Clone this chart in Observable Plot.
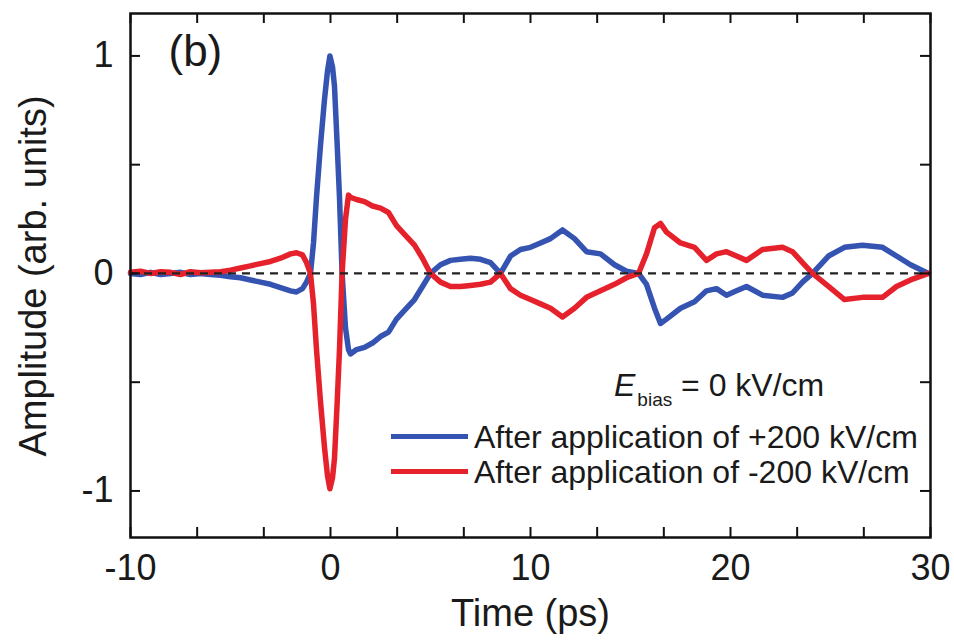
<!DOCTYPE html>
<html>
<head>
<meta charset="utf-8">
<script src="https://cdn.jsdelivr.net/npm/d3@7"></script>
<script src="https://cdn.jsdelivr.net/npm/@observablehq/plot@0.6"></script>
<style>
  body { margin: 0; background: #fff; }
  #wrap { position: relative; width: 954px; height: 641px; font-family: "Liberation Sans", Arial, sans-serif; color: #1a1a1a; }
  .lg { position: absolute; font-size: 32px; line-height: 32px; white-space: nowrap; }
  .sw { position: absolute; height: 5px; width: 77px; }
  #ytitle { position: absolute; left: 33px; top: 276px; font-size: 38px; line-height: 38px; white-space: nowrap;
            transform: translate(-50%, -50%) rotate(-90deg); }
</style>
</head>
<body>
<div id="wrap"></div>
<script>
// Time axis (ps) shared by both traces
const time = [-10,-9.5,-9,-8.5,-8,-7.5,-7,-6.5,-6,-5.5,-5,-4.5,-4,-3.5,-3,-2.5,-2,-1.7,-1.4,-1.2,-1.0,-0.85,-0.7,-0.5,-0.3,-0.15,-0.03,0.1,0.2,0.33,0.45,0.58,0.75,0.9,1.0,1.3,1.7,2.1,2.5,2.9,3.3,3.7,4.2,4.6,5.0,5.5,6.0,6.5,7.0,7.5,8.0,8.5,9.0,9.5,10.0,10.5,11.0,11.6,12.2,12.8,13.5,14.2,14.8,15.4,15.8,16.2,16.5,16.8,17.5,18.2,18.8,19.3,19.8,20.3,20.8,21.6,22.6,23.1,23.6,24.1,24.9,25.7,26.6,27.6,28.3,29.0,29.9];
// After application of +200 kV/cm (blue)
const plus200 = [0.0,-0.005,0.005,-0.005,0.0,0.005,-0.005,0.0,-0.005,-0.008,-0.015,-0.02,-0.03,-0.04,-0.05,-0.065,-0.08,-0.085,-0.07,-0.04,0.0,0.14,0.35,0.59,0.8,0.93,1.0,0.95,0.86,0.6,0.35,0.0,-0.25,-0.35,-0.37,-0.35,-0.34,-0.32,-0.29,-0.27,-0.21,-0.17,-0.12,-0.06,0.0,0.04,0.06,0.065,0.07,0.065,0.05,0.0,0.08,0.11,0.12,0.14,0.16,0.20,0.16,0.10,0.09,0.04,0.01,0.0,-0.05,-0.16,-0.23,-0.21,-0.16,-0.13,-0.08,-0.07,-0.10,-0.08,-0.06,-0.10,-0.11,-0.09,-0.04,0.0,0.08,0.12,0.13,0.12,0.08,0.04,0.0];
// After application of -200 kV/cm (red)
const minus200 = [0.005,0.01,0.0,0.008,0.005,-0.005,0.008,0.003,0.005,0.008,0.015,0.025,0.035,0.045,0.055,0.07,0.09,0.095,0.085,0.05,0.0,-0.14,-0.35,-0.59,-0.8,-0.93,-0.99,-0.94,-0.85,-0.6,-0.35,0.0,0.25,0.36,0.35,0.34,0.33,0.31,0.30,0.28,0.22,0.18,0.13,0.07,0.0,-0.04,-0.06,-0.06,-0.055,-0.05,-0.04,0.0,-0.07,-0.10,-0.12,-0.14,-0.16,-0.20,-0.16,-0.11,-0.08,-0.05,-0.02,0.0,0.09,0.21,0.23,0.19,0.14,0.12,0.06,0.09,0.10,0.08,0.06,0.11,0.12,0.10,0.05,0.0,-0.06,-0.12,-0.11,-0.11,-0.06,-0.03,0.0];

const xLabelTicks = [-10, 0, 10, 20, 30];
const xTicks = [-10, -20/3, -10/3, 0, 10/3, 20/3, 10, 40/3, 50/3, 20, 70/3, 80/3, 30];
const yLabelTicks = [-1, 0, 1];
const yTicks = [-1, -0.5, 0, 0.5, 1];

const blue = "#3553b0";
const red = "#e5222c";

const data = time.map((t, i) => ({t, plus: plus200[i], minus: minus200[i]}));

const W = 954, H = 641, mL = 130, mR = 24, mT = 13, mB = 104;
const plotW = W - mL - mR, plotH = H - mT - mB;
const tk = 10;

const chart = Plot.plot({
  width: W, height: H,
  marginLeft: mL, marginRight: mR, marginTop: mT, marginBottom: mB,
  style: {fontFamily: '"Liberation Sans", Arial, sans-serif', fontSize: "36px", color: "#1a1a1a", background: "#fff"},
  x: {domain: [-10, 30]},
  y: {domain: [-1.214, 1.195]},
  marks: [
    Plot.line(data, {x: "t", y: "plus", stroke: blue, strokeWidth: 5.5, strokeLinejoin: "round"}),
    Plot.line(data, {x: "t", y: "minus", stroke: red, strokeWidth: 5.5, strokeLinejoin: "round"}),
    Plot.ruleY([0], {stroke: "#222", strokeWidth: 2.2, strokeDasharray: "8,6"}),
    Plot.tickX(xTicks, {x: d => d, insetTop: plotH - tk, stroke: "#111", strokeWidth: 2}),
    Plot.tickX(xTicks, {x: d => d, insetBottom: plotH - tk, stroke: "#111", strokeWidth: 2}),
    Plot.tickY(yTicks, {y: d => d, insetRight: plotW - tk, stroke: "#111", strokeWidth: 2}),
    Plot.tickY(yTicks, {y: d => d, insetLeft: plotW - tk, stroke: "#111", strokeWidth: 2}),
    Plot.frame({stroke: "#111", strokeWidth: 2.5}),
    Plot.axisX(xLabelTicks, {tickSize: 0, tickPadding: 17, label: null, tickFormat: d => String(d)}),
    Plot.axisY(yLabelTicks, {tickSize: 0, tickPadding: 17, label: null, tickFormat: d => String(d)}),
    Plot.text(["Time (ps)"], {frameAnchor: "bottom", dy: 88, fontSize: 38, fill: "#1a1a1a"}),
    Plot.text(["(b)"], {frameAnchor: "top-left", dx: 38, dy: 21, textAnchor: "start", fontSize: 44, fill: "#1a1a1a"})
  ]
});

const wrap = document.getElementById("wrap");
wrap.appendChild(chart);

const legend = document.createElement("div");
legend.innerHTML = `
  <div id="ytitle">Amplitude (arb. units)</div>
  <div class="lg" style="left:614px; top:369px;"><i>E</i><span style="font-size:19px; position:relative; top:10px; margin-left:2px;">bias</span> = 0 kV/cm</div>
  <div class="sw" style="left:391px; top:434px; background:${blue};"></div>
  <div class="lg" style="left:474px; top:421px;">After application of +200 kV/cm</div>
  <div class="sw" style="left:391px; top:469px; background:${red};"></div>
  <div class="lg" style="left:474px; top:456px;">After application of -200 kV/cm</div>
`;
wrap.appendChild(legend);
</script>
</body>
</html>
